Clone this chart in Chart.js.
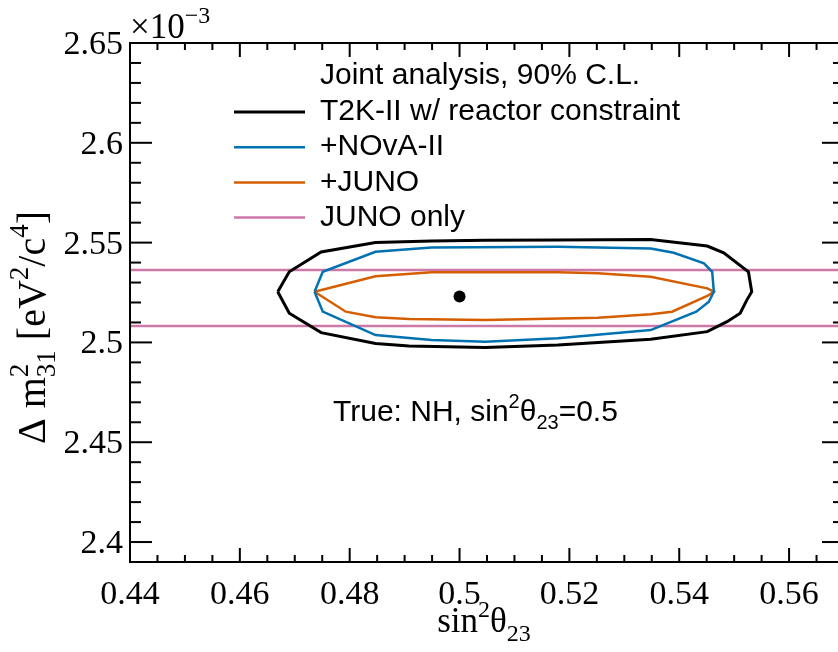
<!DOCTYPE html>
<html>
<head>
<meta charset="utf-8">
<script src="https://cdn.jsdelivr.net/npm/chart.js@4/dist/chart.umd.min.js"></script>
<style>
  html, body { margin: 0; padding: 0; background: #fff; overflow: hidden; }
  canvas { display: block; }
</style>
</head>
<body>
<canvas id="chart" width="850" height="652"></canvas>
<script>
// contour points (y in units of 1e-3 eV^2/c^4)
const t2kX = [0.4669, 0.4690, 0.4748, 0.4847, 0.4949, 0.5047, 0.5179, 0.5348, 0.5451, 0.5481, 0.5526, 0.5532,
              0.5523, 0.5511, 0.5487, 0.5451, 0.5348, 0.5179, 0.5047, 0.4908, 0.4847, 0.4748, 0.4690, 0.4669];
const t2kY = [2.5254, 2.5354, 2.5453, 2.5500, 2.5508, 2.5512, 2.5513, 2.5516, 2.5483, 2.5449, 2.5354, 2.5254,
              2.5212, 2.5146, 2.5104, 2.5054, 2.5016, 2.4987, 2.4975, 2.4982, 2.4995, 2.5049, 2.5146, 2.5254];

const novaX = [0.4736, 0.4751, 0.4847, 0.4949, 0.5179, 0.5348, 0.5390, 0.5445, 0.5460, 0.5463, 0.5454, 0.5431,
               0.5348, 0.5179, 0.5047, 0.4949, 0.4847, 0.4751, 0.4736];
const novaY = [2.5254, 2.5354, 2.5454, 2.5476, 2.5479, 2.5471, 2.5449, 2.5396, 2.5354, 2.5254, 2.5204, 2.5154,
               2.5062, 2.5021, 2.5004, 2.5012, 2.5037, 2.5154, 2.5254];

const junoX = [0.4736, 0.4847, 0.4949, 0.5179, 0.5252, 0.5348, 0.5451, 0.5463, 0.5454, 0.5387, 0.5348, 0.5252,
               0.5047, 0.4908, 0.4847, 0.4793, 0.4736];
const junoY = [2.5254, 2.5331, 2.5351, 2.5351, 2.5346, 2.5329, 2.5271, 2.5254, 2.5237, 2.5154, 2.5141, 2.5124,
               2.5112, 2.5117, 2.5126, 2.5154, 2.5254];

const junoOnlyLevels = [2.5082, 2.5363];
const truePoint = [0.5, 2.523];

const xRange = [0.44, 0.57];
const yRange = [2.39, 2.65];
const xTickLabels = [0.44, 0.46, 0.48, 0.5, 0.52, 0.54, 0.56];
const yTickLabels = [2.4, 2.45, 2.5, 2.55, 2.6, 2.65];

const seriesLabels = ['T2K-II w/ reactor constraint', '+NOvA-II', '+JUNO', 'JUNO only'];
const seriesColors = ['#000000', '#0072b2', '#d55e00', '#cc79a7'];

const SERIF = '"Liberation Serif", "DejaVu Serif", serif';
const SANS = '"Liberation Sans", Arial, sans-serif';

const toPts = (xs, ys) => xs.map((x, i) => ({ x, y: ys[i] }));

function line(ctx, x1, y1, x2, y2) {
    ctx.beginPath();
    ctx.moveTo(x1, y1);
    ctx.lineTo(x2, y2);
    ctx.stroke();
}

// draws text parts with sup / sub scripts, returns total width
function drawRich(ctx, parts, x, y, size, family) {
    let cx = x;
    parts.forEach(p => {
        if (p.t) {
            ctx.font = `${size}px ${family}`;
            ctx.fillText(p.t, cx, y);
            cx += ctx.measureText(p.t).width;
        } else {
            const s = Math.round(size * 0.68);
            ctx.font = `${s}px ${family}`;
            let w = 0;
            if (p.sup) {
                ctx.fillText(p.sup, cx, y - size * 0.42);
                w = Math.max(w, ctx.measureText(p.sup).width);
            }
            if (p.sub) {
                ctx.fillText(p.sub, cx, y + size * 0.25);
                w = Math.max(w, ctx.measureText(p.sub).width);
            }
            cx += w;
        }
    });
    return cx - x;
}

function richWidth(ctx, parts, size, family) {
    let w = 0;
    parts.forEach(p => {
        if (p.t) {
            ctx.font = `${size}px ${family}`;
            w += ctx.measureText(p.t).width;
        } else {
            ctx.font = `${Math.round(size * 0.68)}px ${family}`;
            w += Math.max(p.sup ? ctx.measureText(p.sup).width : 0, p.sub ? ctx.measureText(p.sub).width : 0);
        }
    });
    return w;
}

const frameAndText = {
    id: 'frameAndText',
    afterDraw(chart) {
        const ctx = chart.ctx;
        const a = chart.chartArea;
        const xs = chart.scales.x, ys = chart.scales.y;
        ctx.save();
        ctx.strokeStyle = '#000';
        ctx.fillStyle = '#000';
        ctx.lineWidth = 2;
        ctx.strokeRect(a.left, a.top, a.right - a.left, a.bottom - a.top);

        // x ticks, minor every 0.005
        for (let i = 0; i <= 26; i++) {
            const v = xRange[0] + i * 0.005;
            const px = xs.getPixelForValue(v);
            const len = i % 4 === 0 ? 14 : 7;
            line(ctx, px, a.bottom, px, a.bottom - len);
            line(ctx, px, a.top, px, a.top + len);
        }
        // y ticks, minor every 0.01
        for (let i = 0; i <= 26; i++) {
            const v = yRange[0] + i * 0.01;
            const py = ys.getPixelForValue(v);
            const len = (i - 1) % 5 === 0 ? 22 : 11;
            line(ctx, a.left, py, a.left + len, py);
            line(ctx, a.right, py, a.right - len, py);
        }

        // tick labels
        ctx.font = `34px ${SERIF}`;
        ctx.textBaseline = 'alphabetic';
        ctx.textAlign = 'center';
        xTickLabels.forEach(v => ctx.fillText(String(v), xs.getPixelForValue(v), 604));
        ctx.textAlign = 'right';
        yTickLabels.forEach(v => ctx.fillText(String(v), 123, ys.getPixelForValue(v) + 11));
        ctx.textAlign = 'left';

        // exponent
        drawRich(ctx, [{ t: '\u00d710' }, { sup: '\u22123' }], 130, 38, 35, SERIF);

        // x title
        const xt = [{ t: 'sin' }, { sup: '2' }, { t: '\u03b8' }, { sub: '23' }];
        const xw = richWidth(ctx, xt, 35, SERIF);
        drawRich(ctx, xt, 484 - xw / 2, 632, 35, SERIF);

        // y title
        const yt = [{ t: '\u0394 m' }, { sup: '2', sub: '31' }, { t: ' [eV' }, { sup: '2' }, { t: '/c' }, { sup: '4' }, { t: ']' }];
        ctx.save();
        ctx.translate(45, 444);
        ctx.rotate(-Math.PI / 2);
        drawRich(ctx, yt, 0, 0, 40, SERIF);
        ctx.restore();

        // legend
        ctx.font = `30px ${SANS}`;
        ctx.textBaseline = 'middle';
        ctx.fillText('Joint analysis, 90% C.L.', 320, 76);
        seriesLabels.forEach((lab, i) => {
            const y = 112 + i * 35.2;
            ctx.strokeStyle = seriesColors[i];
            ctx.lineWidth = i === 0 ? 3 : 2.5;
            line(ctx, 234, y, 305, y);
            ctx.fillStyle = '#000';
            ctx.fillText(lab, 320, y);
        });

        // true point annotation
        ctx.textBaseline = 'alphabetic';
        drawRich(ctx, [{ t: 'True: NH, sin' }, { sup: '2' }, { t: '\u03b8' }, { sub: '23' }, { t: '=0.5' }], 333, 421, 30, SANS);
        ctx.restore();
    }
};

const datasets = [
    { data: toPts(t2kX, t2kY), borderColor: seriesColors[0], borderWidth: 3 },
    { data: toPts(novaX, novaY), borderColor: seriesColors[1], borderWidth: 2.5 },
    { data: toPts(junoX, junoY), borderColor: seriesColors[2], borderWidth: 2.5 },
    ...junoOnlyLevels.map(lv => ({
        data: [{ x: xRange[0], y: lv }, { x: xRange[1], y: lv }],
        borderColor: seriesColors[3], borderWidth: 2.5
    }))
].map(d => ({ ...d, showLine: true, fill: false, pointRadius: 0, tension: 0 }));

datasets.push({
    data: [{ x: truePoint[0], y: truePoint[1] }],
    showLine: false, pointRadius: 6, backgroundColor: '#000', borderColor: '#000', borderWidth: 0
});

new Chart(document.getElementById('chart'), {
    type: 'scatter',
    data: { datasets },
    options: {
        responsive: false,
        animation: false,
        layout: { padding: { left: 130, top: 43, right: 2, bottom: 90 } },
        scales: {
            x: { type: 'linear', min: xRange[0], max: xRange[1], display: false },
            y: { type: 'linear', min: yRange[0], max: yRange[1], display: false }
        },
        plugins: { legend: { display: false }, tooltip: { enabled: false } }
    },
    plugins: [frameAndText]
});
</script>
</body>
</html>
